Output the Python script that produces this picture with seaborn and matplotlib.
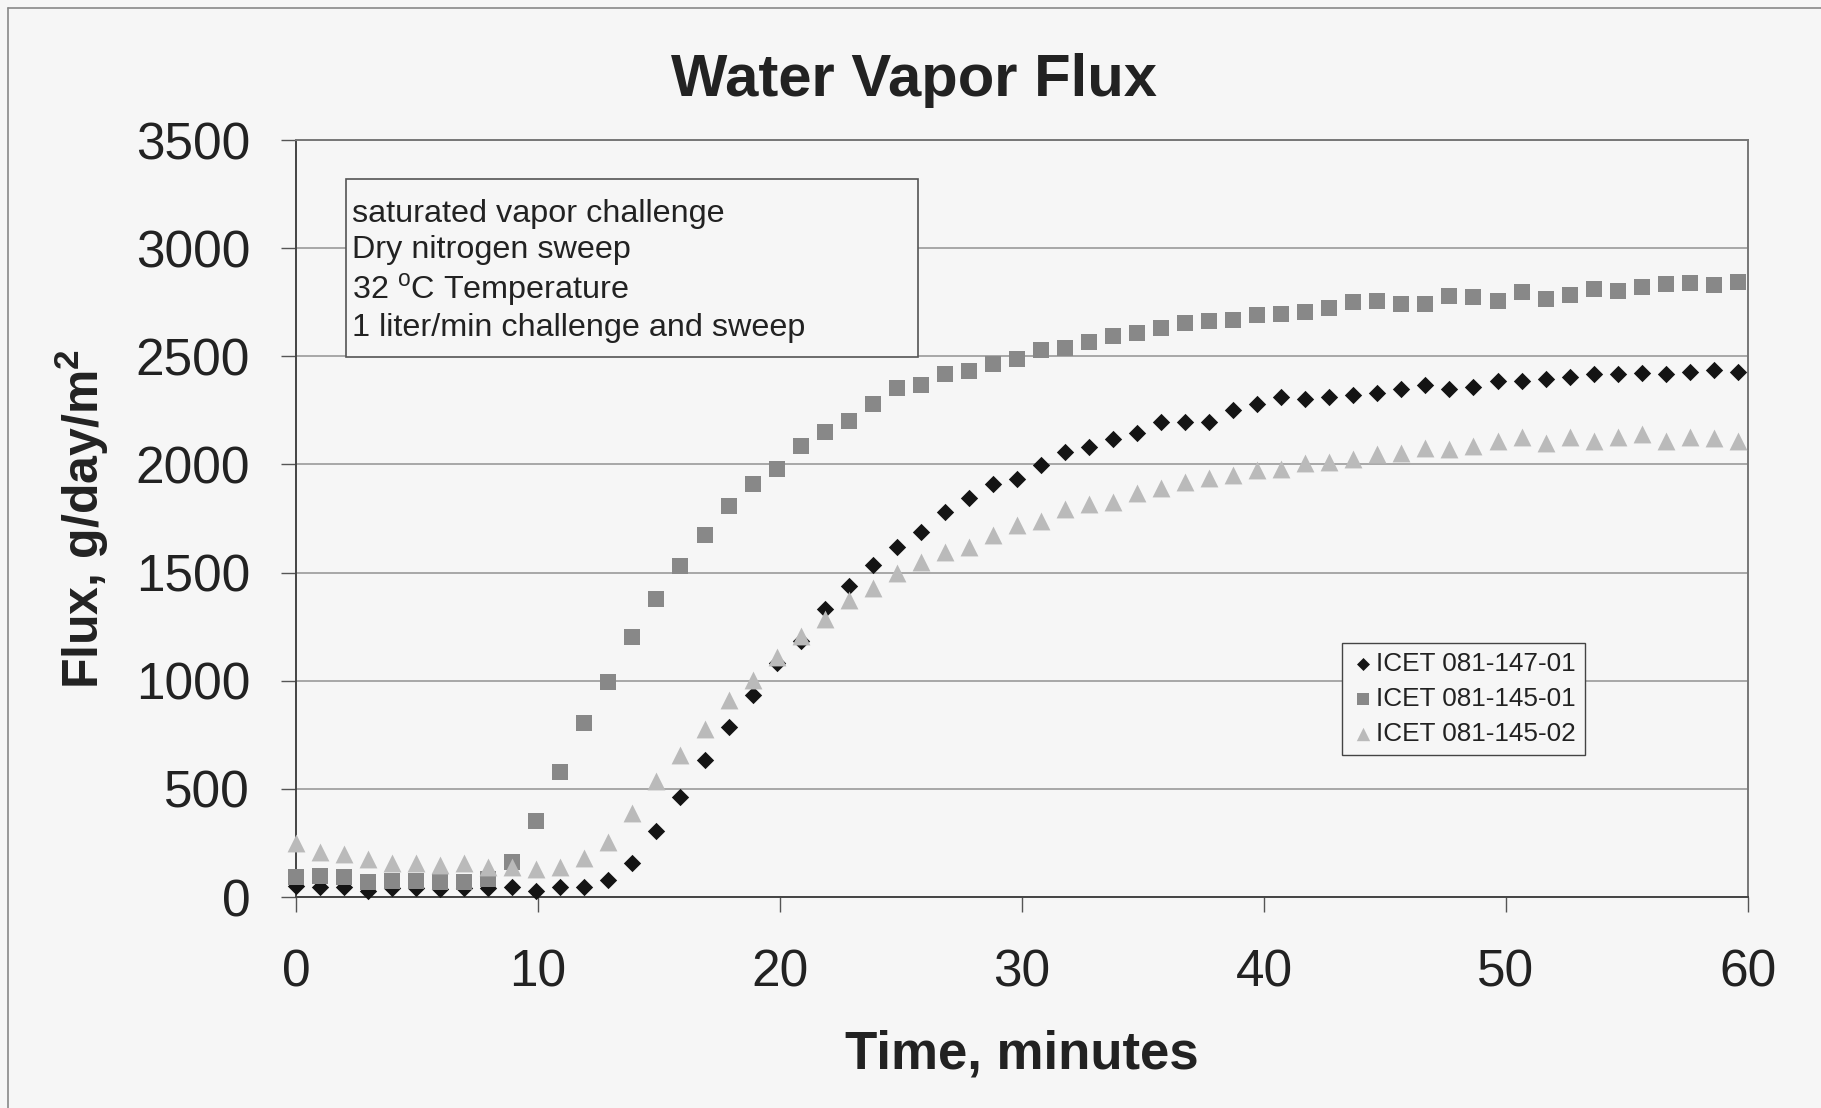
import matplotlib
matplotlib.use("Agg")
import matplotlib.pyplot as plt
import seaborn as sns
import pandas as pd
from matplotlib.patches import Rectangle
from matplotlib.lines import Line2D

# ---------------- data ----------------
series_names = ["ICET 081-147-01", "ICET 081-145-01", "ICET 081-145-02"]

sample_interval_min = 0.993  # samples roughly once a minute

icet_081_147_01 = [50, 48, 48, 30, 40, 42, 38, 40, 42, 48,
                   29, 48, 48, 79, 156, 305, 461, 634, 788, 936,
                   1081, 1185, 1331, 1438, 1535, 1620, 1687, 1779, 1844, 1909,
                   1932, 1997, 2059, 2080, 2117, 2145, 2197, 2194, 2197, 2252,
                   2279, 2314, 2302, 2311, 2320, 2330, 2348, 2367, 2348, 2356,
                   2385, 2387, 2396, 2406, 2420, 2417, 2425, 2417, 2428, 2437,
                   2427]

icet_081_145_01 = [94, 97, 94, 71, 75, 75, 71, 71, 82, 163,
                   353, 580, 806, 994, 1201, 1377, 1532, 1674, 1808, 1909,
                   1978, 2086, 2149, 2203, 2280, 2353, 2365, 2419, 2430, 2465,
                   2487, 2530, 2538, 2568, 2595, 2610, 2633, 2656, 2661, 2669,
                   2689, 2696, 2706, 2723, 2749, 2757, 2741, 2741, 2780, 2776,
                   2756, 2797, 2764, 2784, 2812, 2804, 2820, 2835, 2841, 2830,
                   2843]

icet_081_145_02 = [250, 210, 199, 176, 156, 156, 148, 156, 140, 138,
                   130, 140, 182, 256, 387, 537, 657, 776, 911, 1004,
                   1111, 1209, 1286, 1374, 1431, 1497, 1551, 1597, 1620, 1674,
                   1721, 1739, 1793, 1816, 1828, 1870, 1890, 1921, 1939, 1952,
                   1975, 1978, 2006, 2013, 2026, 2047, 2052, 2075, 2072, 2086,
                   2109, 2126, 2101, 2129, 2109, 2126, 2141, 2110, 2129, 2121,
                   2109]

x_ticks = [0, 10, 20, 30, 40, 50, 60]
y_ticks = [0, 500, 1000, 1500, 2000, 2500, 3000, 3500]

note_lines = ["saturated vapor challenge",
              "Dry nitrogen sweep",
              "32 $^{\\mathrm{o}}$C Temperature",
              "1 liter/min challenge and sweep"]

title_text = "Water Vapor Flux"
x_label = "Time, minutes"
y_label = "Flux, g/day/m$^{\\mathbf{2}}$"

# ---------------- build table ----------------
time_min = [i * sample_interval_min for i in range(len(icet_081_147_01))]
frames = []
for name, vals in zip(series_names, [icet_081_147_01, icet_081_145_01, icet_081_145_02]):
    frames.append(pd.DataFrame({"time": time_min, "flux": vals, "sample": name}))
df = pd.concat(frames, ignore_index=True)

# ---------------- style ----------------
sns.set_theme(style="white")
plt.rcParams["font.family"] = ["Liberation Sans", "DejaVu Sans"]
plt.rcParams["mathtext.fontset"] = "custom"
plt.rcParams["mathtext.rm"] = "Liberation Sans"
plt.rcParams["mathtext.bf"] = "Liberation Sans:bold"

bg = "#f6f6f6"
text_col = "#222222"

fig = plt.figure(figsize=(18.21, 11.08), dpi=100, facecolor=bg)
ax = fig.add_axes([0.16255, 0.19043, 0.79736, 0.68321])
ax.set_facecolor(bg)

styles = {
    series_names[0]: dict(marker="D", color="#141414", s=78),
    series_names[1]: dict(marker="s", color="#888888", s=140),
    series_names[2]: dict(marker="^", color="#bababa", s=165),
}
for i, name in enumerate(series_names):
    st = styles[name]
    sns.scatterplot(data=df[df["sample"] == name], x="time", y="flux",
                    marker=st["marker"], color=st["color"], s=st["s"],
                    linewidth=0, ax=ax, label=name, clip_on=False,
                    zorder=4 + i)

ax.set_xlim(0, 60)
ax.set_ylim(0, 3500)
ax.set_xticks(x_ticks)
ax.set_yticks(y_ticks)
ax.yaxis.grid(True, color="#9a9a9a", linewidth=1.2)
ax.xaxis.grid(False)
ax.set_axisbelow(True)

for side in ["left", "bottom"]:
    ax.spines[side].set_color("#444444")
    ax.spines[side].set_linewidth(1.4)
for side in ["top", "right"]:
    ax.spines[side].set_color("#777777")
    ax.spines[side].set_linewidth(1.4)

ax.tick_params(axis="both", which="major", direction="out", length=11,
               width=1.0, color="#555555", labelsize=37, labelcolor=text_col)
ax.tick_params(axis="y", pad=22)
ax.tick_params(axis="x", pad=26)
ax.tick_params(bottom=True, left=True)

ax.set_xlabel(x_label, fontsize=38, fontweight="bold", color=text_col)
ax.xaxis.label.set_va("baseline")
ax.xaxis.set_label_coords(0.5, -0.226)
ax.set_ylabel(y_label, fontsize=36, fontweight="bold", color=text_col)
ax.yaxis.label.set_va("baseline")
ax.yaxis.set_label_coords(-0.1357, 0.5)

fig.text(0.502, 0.9134, title_text, ha="center", va="baseline",
         fontsize=43, fontweight="bold", color=text_col)

# annotation box
ax.add_patch(Rectangle((0.0344, 0.7133), 0.394, 0.2352, transform=ax.transAxes,
                       facecolor=bg, edgecolor="#555555", linewidth=1.2, zorder=3))
note_y = [0.9025, 0.855, 0.801, 0.752]
for line, yy in zip(note_lines, note_y):
    ax.text(0.0386, yy, line, transform=ax.transAxes, ha="left", va="center",
            fontsize=23.3, color=text_col, zorder=3.5)

leg = ax.legend(loc="upper left", bbox_to_anchor=(0.7204, 0.3355), frameon=True,
                fancybox=False, edgecolor="#444444", facecolor=bg, framealpha=1,
                fontsize=18.8, handletextpad=0.05, handlelength=0.9,
                borderpad=0.35, labelspacing=0.42, borderaxespad=0,
                markerscale=0.75)
leg.get_frame().set_linewidth(1.0)
for t in leg.get_texts():
    t.set_color(text_col)

# scanned page border (left and top)
fig.add_artist(Line2D([8 / 1821, 8 / 1821], [0.0, 1 - 8 / 1108],
                      transform=fig.transFigure, color="#888888", lw=1.2))
fig.add_artist(Line2D([8 / 1821, 1.0], [1 - 8 / 1108, 1 - 8 / 1108],
                      transform=fig.transFigure, color="#888888", lw=1.2))

fig.savefig("out.png", dpi=100, facecolor=bg)
